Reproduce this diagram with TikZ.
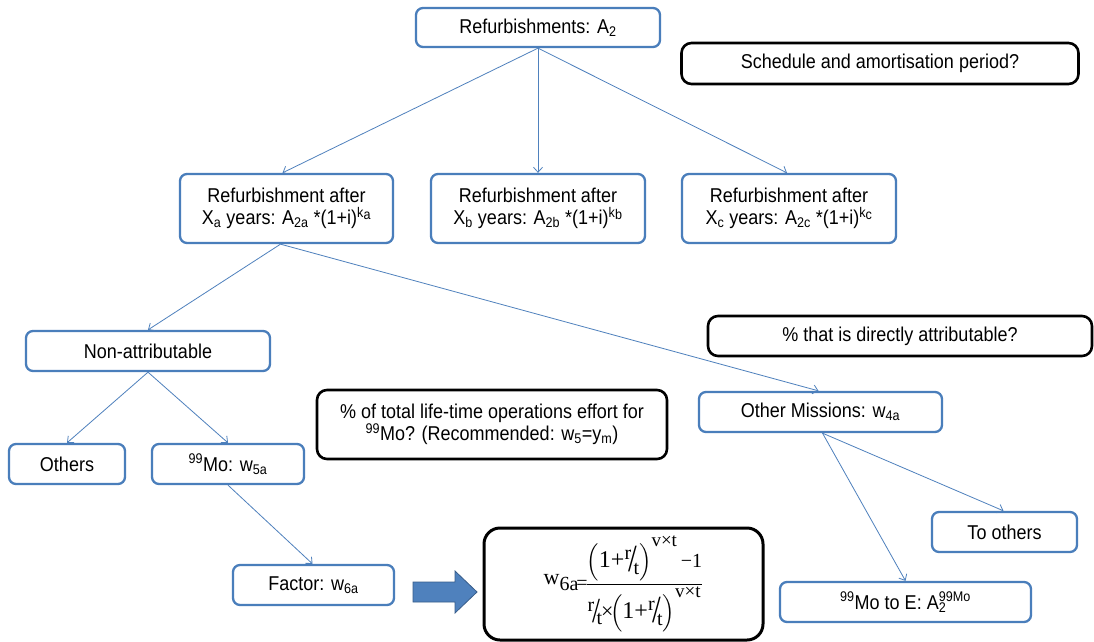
\documentclass[tikz,border=0pt]{standalone}
\usepackage{fontspec}
\usepackage{amsmath}
\setmainfont[FakeStretch=0.9]{Liberation Sans}
\newfontfamily\tmsfont{Liberation Serif}
\usetikzlibrary{arrows.meta}

\definecolor{boxblue}{RGB}{74,126,187}
\definecolor{lineblue}{RGB}{79,129,189}
\definecolor{arrowfill}{RGB}{79,129,189}
\definecolor{arrowdraw}{RGB}{56,93,138}

% slanted fraction r/t as printed in the formula
\newcommand\slfrac[2]{%
  \raisebox{0.75ex}{\fontsize{20}{20}\selectfont #1}\kern-0.1em%
  \raisebox{-0.35ex}{\scalebox{1.3}[1.6]{/}}\kern-0.16em%
  \raisebox{-0.6ex}{\fontsize{20}{20}\selectfont #2}}
% one bracketed term (1 + r/t)^{v x t}
\newcommand\growth{\Bigl(\text{\fontsize{24}{24}\selectfont 1+\slfrac{r}{t}}\Bigr)^{\text{\raisebox{3pt}{\fontsize{19}{19}\selectfont v×t}}}}

\tikzset{
  bluebox/.style={draw=boxblue, line width=2.3pt, rounded corners=7pt, fill=white,
    align=center, inner sep=0pt, font=\fontsize{20}{22}\selectfont},
  blackbox/.style={draw=black, line width=2.6pt, rounded corners=10pt, fill=white,
    align=center, inner sep=0pt, font=\fontsize{20}{22}\selectfont},
  link/.style={draw=lineblue, line width=0.8pt,
    -{Straight Barb[length=5pt,width=9pt,line width=0.8pt]}},
}

\begin{document}
\begin{tikzpicture}[x=1pt,y=-1pt]
\useasboundingbox[fill=white] (0,0) rectangle (1094,641);

% top level
\node[bluebox, minimum width=244pt, minimum height=39pt] (top) at (538,27.5) {Refurbishments: A\textsubscript{2}};
\node[blackbox, minimum width=397pt, minimum height=41pt] (sched) at (880,63.5) {Schedule and amortisation period?};

% refurbishment branches
\node[bluebox, minimum width=213pt, minimum height=69pt] (ra) at (286.5,208.5)
  {Refurbishment after\\X\textsubscript{a} years: A\textsubscript{2a} *(1+i)\textsuperscript{k\raisebox{-0.35ex}{a}}};
\node[bluebox, minimum width=214pt, minimum height=69pt] (rb) at (538,208.5)
  {Refurbishment after\\X\textsubscript{b} years: A\textsubscript{2b} *(1+i)\textsuperscript{k\raisebox{-0.35ex}{b}}};
\node[bluebox, minimum width=214pt, minimum height=69pt] (rc) at (789,208.5)
  {Refurbishment after\\X\textsubscript{c} years: A\textsubscript{2c} *(1+i)\textsuperscript{k\raisebox{-0.35ex}{c}}};

% attribution level
\node[bluebox, minimum width=244pt, minimum height=40pt] (non) at (148,351) {Non-attributable};
\node[blackbox, minimum width=384pt, minimum height=40pt] (attr) at (900,336) {\% that is directly attributable?};
\node[blackbox, minimum width=350pt, minimum height=69pt] (life) at (492,424.5)
  {\% of total life-time operations effort for\\\textsuperscript{99}Mo? (Recommended: w\textsubscript{5}=y\textsubscript{m})};
\node[bluebox, minimum width=243pt, minimum height=40pt] (om) at (820.5,412) {Other Missions: w\textsubscript{4a}};

% lower level
\node[bluebox, minimum width=116pt, minimum height=40pt] (others) at (67,464) {Others};
\node[bluebox, minimum width=152pt, minimum height=40pt] (mo) at (228,464) {\textsuperscript{99}Mo: w\textsubscript{5a}};
\node[bluebox, minimum width=145pt, minimum height=40pt] (toothers) at (1004.5,532) {To others};
\node[bluebox, minimum width=161pt, minimum height=40pt] (factor) at (313.5,585) {Factor: w\textsubscript{6a}};
\node[bluebox, minimum width=251pt, minimum height=40pt] (moE) at (905.5,602)
  {\textsuperscript{99}Mo to E: A\rlap{\textsubscript{2}}\textsuperscript{99Mo}};

% annuity factor formula
\node[blackbox, line width=3pt, rounded corners=16pt, minimum width=279pt, minimum height=112pt,
      font=\tmsfont\fontsize{22}{24}\selectfont] (formula) at (623.5,584)
  {\raisebox{0.45ex}{w\textsubscript{\fontsize{20}{20}\selectfont 6a}}\kern-0.12em{\fontsize{20}{20}\selectfont=}\kern-0.1em$\dfrac{\growth\text{\fontsize{20}{20}\selectfont\,−1}}
     {\text{\slfrac{r}{t}}\kern-0.05em\text{×}\kern-0.15em\growth}$};

% block arrow from the factor to its formula
\draw[draw=arrowdraw, fill=arrowfill, line width=0.8pt]
  (413,582) -- (455,582) -- (455,571) -- (477,592) -- (455,613) -- (455,602) -- (413,602) -- cycle;

% connectors
\draw[link] (top.south) -- ([xshift=-4pt]ra.north);
\draw[link] (top.south) -- (rb.north);
\draw[link] (top.south) -- ([xshift=-2pt]rc.north);
\draw[link] ([xshift=-6pt]ra.south) -- (non.north);
\draw[link] ([xshift=-6pt]ra.south) -- ([xshift=-2pt]om.north);
\draw[link] (non.south) -- (others.north);
\draw[link] (non.south) -- (mo.north);
\draw[link] (mo.south) -- ([xshift=-1pt]factor.north);
\draw[link] ([xshift=2pt]om.south) -- ([xshift=-1pt]toothers.north);
\draw[link] ([xshift=2pt]om.south) -- (moE.north);
\end{tikzpicture}
\end{document}
